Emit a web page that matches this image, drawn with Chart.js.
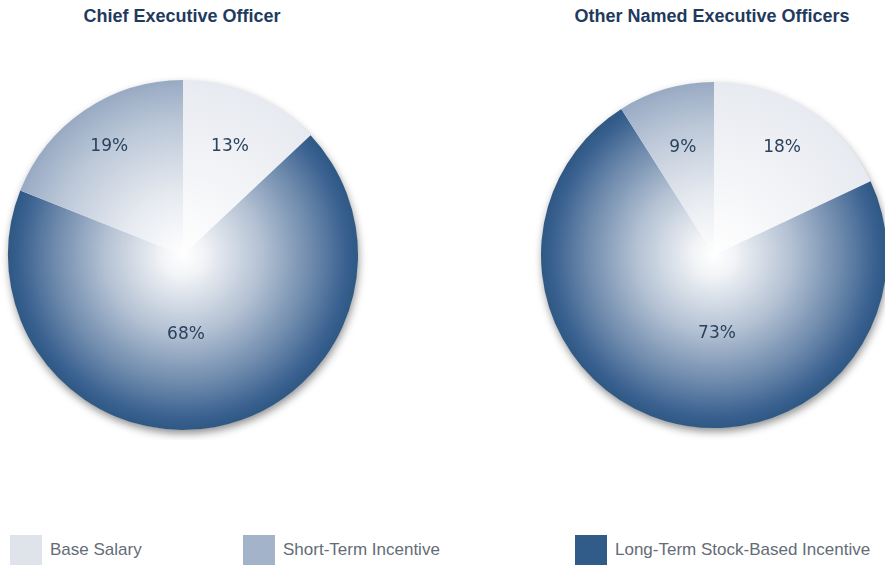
<!DOCTYPE html>
<html>
<head>
<meta charset="utf-8">
<script src="https://cdn.jsdelivr.net/npm/chart.js@4.4.1/dist/chart.umd.min.js"></script>
<style>
  html, body { margin: 0; padding: 0; background: #ffffff; width: 885px; height: 565px; overflow: hidden; }
  #wrap { position: relative; width: 885px; height: 565px; overflow: hidden; }
  .title { position: absolute; top: 5px; font: bold 18px "Liberation Sans", Arial, sans-serif; color: #1e3a5e; white-space: nowrap; transform: translateX(-50%); line-height: 22px; }
  .cv { position: absolute; top: 0; }
  .leg { position: absolute; top: 535px; height: 30px; display: flex; align-items: center; font: 17px "Liberation Sans", Arial, sans-serif; color: #646c77; white-space: nowrap; }
  .leg span.sw { display: inline-block; width: 32px; height: 30px; margin-right: 8px; }
</style>
</head>
<body>
<div id="wrap">
  <div class="title" id="t1" style="left:182px"></div>
  <div class="title" id="t2" style="left:712px"></div>
  <div class="cv" style="left:0px;width:370px;height:440px"><canvas id="c1" width="370" height="440"></canvas></div>
  <div class="cv" style="left:530px;width:360px;height:440px"><canvas id="c2" width="360" height="440"></canvas></div>
  <div id="legend"></div>
</div>
<script>
// ---- Data ----
const chartTitles = ["Chief Executive Officer", "Other Named Executive Officers"];
// slice order (clockwise from top)
const sliceCategories = ["Base Salary", "Long-Term Stock-Based Incentive", "Short-Term Incentive"];
const ceoValues = [13, 68, 19];
const otherValues = [18, 73, 9];
const legendCategories = ["Base Salary", "Short-Term Incentive", "Long-Term Stock-Based Incentive"];

// ---- Styles ----
const gradientStops = {
  "Base Salary": [[0, "#ffffff"], [0.45, "#f4f5f8"], [1, "#e7eaf0"]],
  "Short-Term Incentive": [[0, "#ffffff"], [0.35, "#e6eaf0"], [0.75, "#bcc8d8"], [1, "#98aac3"]],
  "Long-Term Stock-Based Incentive": [[0, "#ffffff"], [0.12, "#f2f4f7"], [0.45, "#b3c1d3"], [0.75, "#6a87aa"], [0.93, "#3a6190"], [1, "#2f5884"]]
};
const legendColors = {
  "Base Salary": "#dfe3ea",
  "Short-Term Incentive": "#a3b3c9",
  "Long-Term Stock-Based Incentive": "#315c8a"
};
const legendLefts = [10, 243, 575];

document.getElementById('t1').textContent = chartTitles[0];
document.getElementById('t2').textContent = chartTitles[1];

const legendEl = document.getElementById('legend');
legendCategories.forEach((cat, i) => {
  const d = document.createElement('div');
  d.className = 'leg';
  d.style.left = legendLefts[i] + 'px';
  const sw = document.createElement('span');
  sw.className = 'sw';
  sw.style.background = legendColors[cat];
  d.appendChild(sw);
  d.appendChild(document.createTextNode(cat));
  legendEl.appendChild(d);
});

function makeGradient(context, cat) {
  const chart = context.chart;
  const area = chart.chartArea;
  if (!area) return legendColors[cat];
  const cx = (area.left + area.right) / 2;
  const cy = (area.top + area.bottom) / 2;
  const r = Math.min(area.right - area.left, area.bottom - area.top) / 2;
  const g = chart.ctx.createRadialGradient(cx, cy, 0, cx, cy, r);
  gradientStops[cat].forEach(s => g.addColorStop(s[0], s[1]));
  return g;
}

const shadowPlugin = {
  id: 'pieShadow',
  beforeDatasetsDraw(chart) {
    const meta = chart.getDatasetMeta(0);
    if (!meta.data.length) return;
    const a = meta.data[0];
    const ctx = chart.ctx;
    ctx.save();
    ctx.shadowColor = 'rgba(0,0,0,0.45)';
    ctx.shadowBlur = 9;
    ctx.shadowOffsetX = 1;
    ctx.shadowOffsetY = 4;
    ctx.beginPath();
    ctx.arc(a.x, a.y, a.outerRadius - 0.5, 0, Math.PI * 2);
    ctx.fillStyle = '#ffffff';
    ctx.fill();
    ctx.restore();
  }
};

// Small slices: label on the slice's middle ray, on a common line above the centre.
// Large slice: label straight below the centre.
const labelPlugin = {
  id: 'sliceLabels',
  afterDatasetsDraw(chart) {
    const ctx = chart.ctx;
    const ds = chart.data.datasets[0];
    const meta = chart.getDatasetMeta(0);
    ctx.save();
    ctx.font = '17px "DejaVu Sans", Verdana, sans-serif';
    ctx.fillStyle = '#29435f';
    ctx.textAlign = 'center';
    ctx.textBaseline = 'middle';
    meta.data.forEach((arc, i) => {
      const p = arc.getProps(['x', 'y', 'startAngle', 'endAngle', 'outerRadius'], true);
      const mid = (p.startAngle + p.endAngle) / 2;
      const v = ds.data[i];
      let x, y;
      if (v > 50) {
        x = p.x + 3;
        y = p.y + p.outerRadius * 0.455;
      } else {
        const dy = -p.outerRadius * 0.62;
        y = p.y + dy;
        x = p.x + dy * Math.cos(mid) / Math.sin(mid);
      }
      ctx.fillText(v + '%', x, y);
    });
    ctx.restore();
  }
};

function makePie(id, values, padding) {
  return new Chart(document.getElementById(id), {
    type: 'pie',
    data: {
      labels: sliceCategories,
      datasets: [{
        data: values,
        backgroundColor: (ctx) => makeGradient(ctx, sliceCategories[ctx.dataIndex]),
        borderWidth: 0,
        hoverOffset: 0
      }]
    },
    options: {
      responsive: false,
      animation: false,
      events: [],
      layout: { padding: padding },
      plugins: { legend: { display: false }, tooltip: { enabled: false }, title: { display: false } }
    },
    plugins: [shadowPlugin, labelPlugin]
  });
}

makePie('c1', ceoValues, { left: 8, right: 12, top: 80, bottom: 10 });
makePie('c2', otherValues, { left: 11, right: 3, top: 82, bottom: 12 });
</script>
</body>
</html>
